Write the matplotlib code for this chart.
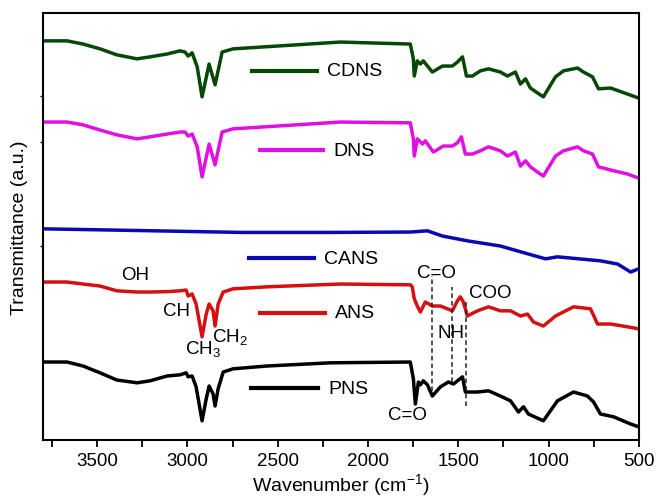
import matplotlib
matplotlib.use("Agg")
import matplotlib.pyplot as plt

plt.rcParams["font.family"] = ["Liberation Sans", "DejaVu Sans"]
plt.rcParams["mathtext.fontset"] = "custom"
plt.rcParams["mathtext.rm"] = "Liberation Sans"
plt.rcParams["mathtext.it"] = "Liberation Sans"

# FTIR spectra, offset transmittance in arbitrary units
pns_wn = [3800, 3667, 3578, 3484, 3391, 3279, 3207, 3113, 3041, 3007, 2996, 2974, 2952, 2919,
          2896, 2880, 2858, 2847, 2830, 2802, 2747, 2560, 2209, 1987, 1766, 1749, 1738, 1721,
          1710, 1694, 1671, 1644, 1599, 1555, 1527, 1477, 1461, 1394, 1333, 1267, 1211, 1167,
          1139, 1112, 1029, 951, 862, 785, 751, 713, 640, 546, 502]
pns_t = [19.5, 19.5, 18.5, 16.8, 15.0, 14.3, 14.8, 16.0, 16.3, 16.8, 15.8, 16.0, 13.3, 4.8,
         10.3, 13.5, 11.5, 8.5, 12.8, 17.0, 17.8, 18.5, 19.3, 19.4, 19.5, 15.3, 9.0, 14.5,
         13.8, 14.8, 13.8, 11.0, 13.3, 14.5, 14.0, 15.8, 12.0, 12.0, 12.3, 11.0, 9.8, 7.0,
         8.3, 6.5, 4.8, 9.8, 12.0, 11.0, 9.5, 6.5, 5.8, 4.0, 3.3]

ans_wn = [3800, 3667, 3578, 3484, 3391, 3279, 3207, 3113, 3041, 3007, 2996, 2974, 2952, 2919,
          2896, 2880, 2858, 2847, 2830, 2802, 2747, 2560, 2154, 1766, 1755, 1744, 1727, 1710,
          1683, 1644, 1599, 1533, 1505, 1489, 1472, 1450, 1394, 1333, 1267, 1211, 1156, 1117,
          1084, 1029, 962, 862, 768, 729, 657, 563, 502]
ans_t = [39.5, 39.5, 39.0, 38.5, 37.3, 37.0, 37.0, 37.1, 37.3, 37.5, 36.0, 36.5, 34.0, 25.8,
         31.5, 34.0, 32.3, 28.5, 34.0, 37.0, 37.8, 38.3, 39.0, 38.8, 38.3, 35.3, 33.5, 32.0,
         34.5, 33.5, 33.5, 32.3, 34.8, 35.8, 34.5, 31.0, 32.3, 33.3, 32.3, 32.3, 31.0, 31.5,
         29.5, 28.5, 31.0, 33.3, 32.8, 29.0, 29.0, 28.3, 27.8]

cans_wn = [3800, 3300, 2700, 2209, 1766, 1671, 1588, 1450, 1267, 1112, 1017, 951, 713, 618, 546, 502]
cans_t = [52.8, 52.4, 51.9, 51.9, 52.0, 52.3, 51.0, 49.8, 48.5, 46.5, 45.3, 45.8, 44.8, 44.0, 42.0, 42.8]

dns_wn = [3800, 3667, 3578, 3484, 3391, 3279, 3207, 3113, 3041, 3013, 2996, 2974, 2946, 2919,
          2880, 2847, 2808, 2747, 2154, 1766, 1749, 1744, 1727, 1699, 1683, 1638, 1583, 1533,
          1505, 1483, 1461, 1422, 1378, 1333, 1267, 1228, 1184, 1156, 1128, 1101, 1062, 1029,
          962, 918, 840, 807, 757, 724, 657, 563, 502]
dns_t = [79.5, 79.5, 78.8, 77.5, 76.3, 75.3, 75.8, 76.5, 77.0, 77.0, 76.0, 76.5, 73.3, 65.8,
         74.0, 68.8, 77.0, 77.8, 79.5, 79.3, 75.3, 71.0, 75.3, 74.0, 74.8, 72.0, 73.5, 73.5,
         74.3, 75.8, 71.5, 71.5, 72.3, 73.3, 72.3, 71.0, 72.0, 68.5, 69.8, 68.3, 67.0, 66.0,
         71.0, 72.3, 73.3, 72.3, 71.5, 68.3, 67.5, 66.5, 65.5]

cdns_wn = [3800, 3667, 3578, 3484, 3391, 3279, 3207, 3113, 3041, 3013, 2996, 2974, 2946, 2919,
           2880, 2847, 2808, 2747, 2154, 1766, 1749, 1744, 1727, 1710, 1694, 1644, 1588, 1533,
           1505, 1477, 1455, 1422, 1378, 1333, 1267, 1228, 1184, 1156, 1128, 1101, 1062, 1029,
           962, 918, 840, 807, 757, 724, 657, 563, 502]
cdns_t = [99.8, 99.8, 99.0, 97.8, 96.3, 95.3, 95.8, 96.5, 97.3, 97.0, 96.0, 96.8, 93.3, 85.8,
          94.0, 88.8, 97.0, 97.8, 99.5, 99.0, 95.3, 91.0, 94.8, 94.0, 94.8, 92.0, 93.5, 93.5,
          94.5, 95.8, 91.0, 91.0, 92.3, 92.8, 92.0, 91.0, 92.0, 89.0, 90.3, 88.0, 86.8, 85.8,
          90.8, 92.3, 93.0, 92.0, 90.8, 87.8, 88.0, 86.5, 85.5]

names = ["CDNS", "DNS", "CANS", "ANS", "PNS"]
colors = ["#064806", "#e010e0", "#0808b4", "#d41010", "#000000"]
series = [(cdns_wn, cdns_t), (dns_wn, dns_t), (cans_wn, cans_t), (ans_wn, ans_t), (pns_wn, pns_t)]

# inline legend: segment start/end (wavenumber) and height
leg_x0 = [2642, 2597, 2658, 2597, 2650]
leg_x1 = [2281, 2248, 2298, 2237, 2275]
leg_y = [92.3, 72.5, 45.5, 31.8, 13.0]

# band assignments
labels = ["OH", "CH", "CH$_3$", "CH$_2$", "C=O", "NH", "COO", "C=O"]
label_x = [3290, 3063, 3013, 2863, 1622, 1539, 1322, 1782]
label_y = [41.3, 32.5, 23.0, 26.0, 42.0, 26.8, 37.0, 6.5]
label_ha = ["center", "center", "left", "left", "center", "center", "center", "center"]

dash_x = [1644, 1533, 1455]
dash_top = [41.0, 38.3, 35.3]
dash_bot = [12.3, 14.5, 8.5]

fig = plt.figure(figsize=(6.58, 5.02), dpi=100)
ax = fig.add_axes([0.0653, 0.1215, 0.9057, 0.8505])

for (wn, t), c in zip(series, colors):
    ax.plot(wn, t, color=c, lw=2.5, solid_joinstyle="round")

for name, c, x0, x1, y in zip(names, colors, leg_x0, leg_x1, leg_y):
    ax.plot([x0, x1], [y, y], color=c, lw=3)
    ax.text(x1 - 55, y, name, fontsize=14, va="center", ha="left")

for txt, x, y, ha in zip(labels, label_x, label_y, label_ha):
    ax.text(x, y, txt, fontsize=13.5, ha=ha, va="center")

ax.vlines(dash_x, dash_bot, dash_top, colors="#222222", linestyles=(0, (3, 2)), lw=1.1)

ax.set_xlim(3800, 500)
ax.set_ylim(0, 106.75)
ax.set_xticks([3500, 3000, 2500, 2000, 1500, 1000, 500])
ax.set_xticks([3750, 3250, 2750, 2250, 1750, 1250, 750], minor=True)
ax.tick_params(axis="x", which="both", direction="out", length=5, width=1.3, labelsize=13.5)
ax.set_yticks([48.5, 74.5, 86.0])
ax.tick_params(axis="y", direction="out", length=2, width=1, labelleft=False)
for s in ax.spines.values():
    s.set_linewidth(1.5)

ax.set_xlabel("Wavenumber (cm$^{-1}$)", fontsize=14, labelpad=2)
ax.set_ylabel("Transmittance (a.u.)", fontsize=14, labelpad=9)

fig.savefig("out.png", dpi=100)
